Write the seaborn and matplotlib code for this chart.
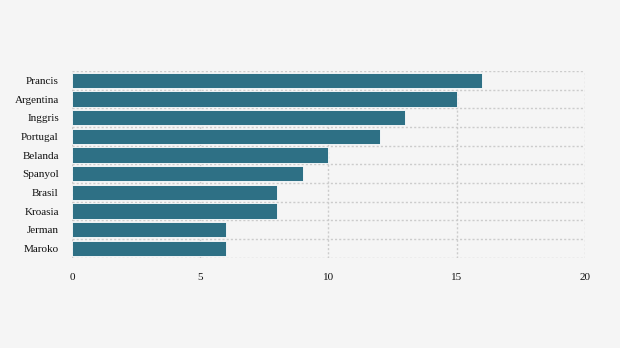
import matplotlib
matplotlib.use("Agg")
import matplotlib.pyplot as plt
import seaborn as sns
import pandas as pd
import numpy as np

countries = ["Prancis", "Argentina", "Inggris", "Portugal", "Belanda",
             "Spanyol", "Brasil", "Kroasia", "Jerman", "Maroko"]
values = [16, 15, 13, 12, 10, 9, 8, 8, 6, 6]
xticks = [0, 5, 10, 15, 20]

sns.set_theme(style="white")
plt.rcParams['font.family'] = ['Liberation Serif', 'DejaVu Serif']

df = pd.DataFrame({"country": countries, "value": values})

fig = plt.figure(figsize=(6.2, 3.48), dpi=100, facecolor="#f5f5f5")
ax = fig.add_axes([0.116, 0.259, 0.8275, 0.537])
ax.set_facecolor("#f5f5f5")

sns.barplot(data=df, x="value", y="country", color="#2e7085", saturation=1,
            width=0.82, edgecolor="white", linewidth=0.6, ax=ax, zorder=3)

ax.set_xlim(0, 20)
ax.set_ylim(len(countries) - 0.5, -0.5)
ax.set_xticks(xticks)
ax.set_xticklabels([str(t) for t in xticks])
ax.set_yticks(np.arange(len(countries)), minor=False)
ax.set_yticks(np.arange(len(countries) + 1) - 0.5, minor=True)

ax.grid(False)
ax.xaxis.grid(True, color="#cccccc", linestyle=(0, (1.5, 1.5)), linewidth=1)
ax.yaxis.grid(True, which="minor", color="#cccccc", linestyle=(0, (1.5, 1.5)), linewidth=1)
ax.set_axisbelow(True)

for s in ax.spines.values():
    s.set_visible(False)

ax.tick_params(axis="x", length=0, pad=11, labelsize=8, labelcolor="#111111")
ax.tick_params(axis="y", which="major", length=3.6, color="#dddddd", width=1,
               pad=5.8, labelsize=8, labelcolor="#111111")
ax.tick_params(axis="y", which="minor", length=0)
ax.set_xlabel("")
ax.set_ylabel("")

fig.savefig("out.png", dpi=100, facecolor=fig.get_facecolor())
